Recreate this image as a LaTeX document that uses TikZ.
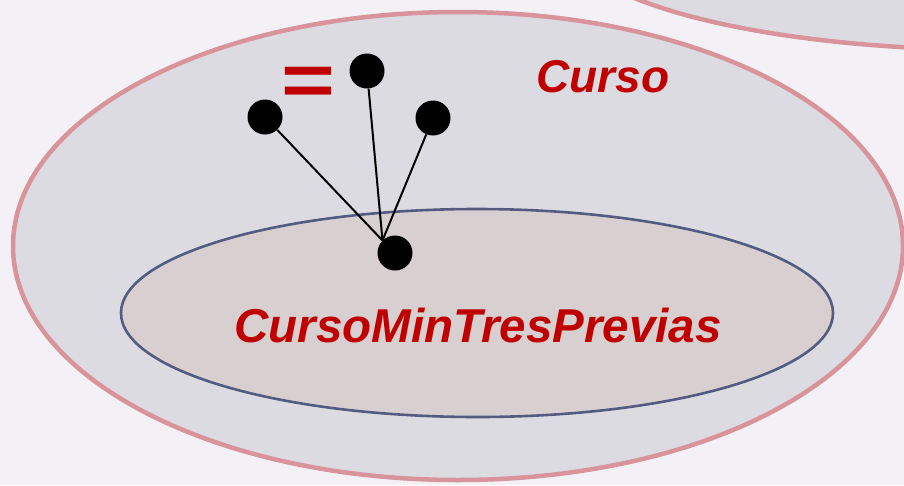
\documentclass[tikz,border=0pt]{standalone}
\usepackage{fontspec}
\setmainfont{Liberation Sans}
\definecolor{bg}{HTML}{F3F1F6}
\definecolor{outerfill}{HTML}{DCDBE1}
\definecolor{outerline}{HTML}{D9939A}
\definecolor{innerfill}{HTML}{D8CFD0}
\definecolor{innerline}{HTML}{535C80}
\definecolor{txtred}{HTML}{C00000}
\begin{document}
\begin{tikzpicture}[x=1pt,y=-1pt,
  dot/.style={circle,fill=black,inner sep=0pt,minimum size=35pt},
  link/.style={line width=2pt,black},
  lbl/.style={text=txtred,font=\fontsize{46}{50}\selectfont\bfseries\itshape,inner sep=0pt}]
\useasboundingbox[fill=bg] (0,0) rectangle (904,485);
\begin{scope}
\clip (0,0) rectangle (904,485);
\draw[outerline,fill=outerfill,line width=4.5pt] (1000,-60) ellipse [x radius=430,y radius=110];
\end{scope}
\draw[outerline,fill=outerfill,line width=4.5pt] (458,246) ellipse [x radius=445,y radius=234];
\draw[innerline,fill=innerfill,line width=2.6pt] (477,313) ellipse [x radius=356,y radius=104];
\node[lbl] (curso) at (603,77) {Curso};
\node[lbl,font=\fontsize{47.5}{50}\selectfont\bfseries\itshape] (sub) at (478,326) {CursoMinTresPrevias};
\node[text=txtred,font=\fontsize{92}{92}\selectfont\bfseries,inner sep=0pt] (eq) at (308,86) {\scalebox{1}[0.8]{=}};
\node[dot] (l) at (265,117) {};
\node[dot] (t) at (367,71) {};
\node[dot] (r) at (433,118) {};
\node[dot] (b) at (395,253) {};
\draw[link] (l) -- (b.135);
\draw[link] (t) -- (b.135);
\draw[link] (r) -- (b.135);
\end{tikzpicture}
\end{document}
